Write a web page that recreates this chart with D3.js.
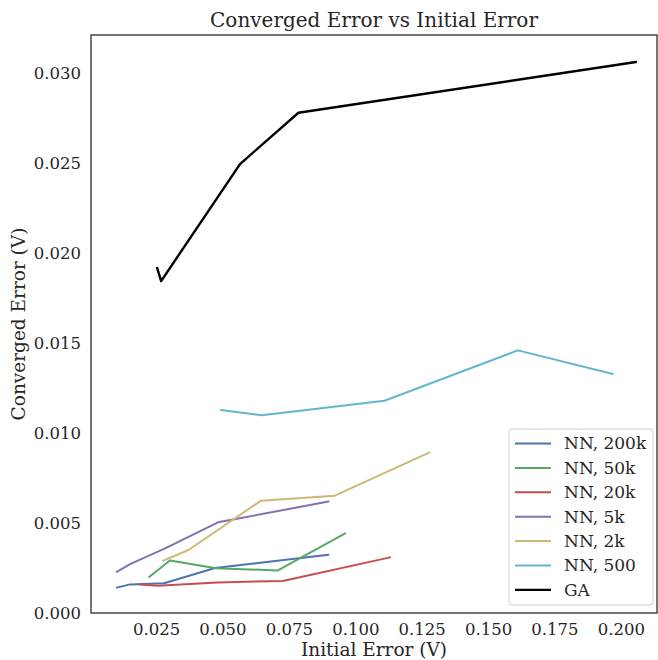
<!DOCTYPE html>
<html>
<head>
<meta charset="utf-8">
<script src="https://cdn.jsdelivr.net/npm/d3@7"></script>
<style>
  html, body { margin: 0; padding: 0; background: #fff; }
  svg { display: block; font-family: "DejaVu Serif", serif; }
</style>
</head>
<body>
<svg id="chart" width="658" height="660"></svg>
<script>
// Initial error (V) vs converged error (V) for each method
const nn200kX = [0.0102, 0.0152, 0.0280, 0.0472, 0.0899];
const nn200kY = [0.00141, 0.00159, 0.00165, 0.00250, 0.00324];

const nn50kX = [0.0224, 0.0302, 0.0476, 0.0707, 0.0962];
const nn50kY = [0.00200, 0.00292, 0.00249, 0.00236, 0.00443];

const nn20kX = [0.0187, 0.0258, 0.0480, 0.0727, 0.1131];
const nn20kY = [0.00159, 0.00152, 0.00170, 0.00178, 0.00309];

const nn5kX = [0.0102, 0.0152, 0.0284, 0.0483, 0.0899];
const nn5kY = [0.00229, 0.00272, 0.00359, 0.00504, 0.00619];

const nn2kX = [0.0277, 0.0372, 0.0645, 0.0921, 0.1278];
const nn2kY = [0.00291, 0.00350, 0.00624, 0.00651, 0.00891];

const nn500X = [0.0494, 0.0648, 0.1110, 0.1612, 0.1970];
const nn500Y = [0.01128, 0.01098, 0.01179, 0.01459, 0.01328];

const gaX = [0.0254, 0.0269, 0.0566, 0.0786, 0.2057];
const gaY = [0.01917, 0.01844, 0.02494, 0.02779, 0.03061];

const seriesNames = ["NN, 200k", "NN, 50k", "NN, 20k", "NN, 5k", "NN, 2k", "NN, 500", "GA"];
const seriesColors = ["#4C72B0", "#55A868", "#C44E52", "#8172B2", "#CCB974", "#64B5CD", "#000000"];

const xTicks = [0.025, 0.050, 0.075, 0.100, 0.125, 0.150, 0.175, 0.200];
const yTicks = [0.000, 0.005, 0.010, 0.015, 0.020, 0.025, 0.030];

const seriesX = [nn200kX, nn50kX, nn20kX, nn5kX, nn2kX, nn500X, gaX];
const seriesY = [nn200kY, nn50kY, nn20kY, nn5kY, nn2kY, nn500Y, gaY];
const series = seriesNames.map((name, i) => ({
  name, color: seriesColors[i],
  points: seriesX[i].map((x, j) => [x, seriesY[i][j]])
}));

const svg = d3.select("#chart");
const margin = { left: 91, right: 1, top: 35, bottom: 47 };
const W = 658, H = 660;
const plotW = W - margin.left - margin.right;
const plotH = H - margin.top - margin.bottom;

const x = d3.scaleLinear().domain([0.0005, 0.2136]).range([0, plotW]);
const y = d3.scaleLinear().domain([0, 0.03211]).range([plotH, 0]);

const g = svg.append("g").attr("transform", `translate(${margin.left},${margin.top})`);

// Axes (tick marks hidden, labels only)
const xAxis = g.append("g")
  .attr("transform", `translate(0,${plotH})`)
  .call(d3.axisBottom(x).tickValues(xTicks).tickFormat(d3.format(".3f")).tickSize(0).tickPadding(10));
const yAxis = g.append("g")
  .call(d3.axisLeft(y).tickValues(yTicks).tickFormat(d3.format(".3f")).tickSize(0).tickPadding(10));
[xAxis, yAxis].forEach(a => {
  a.select(".domain").remove();
  a.selectAll("text").attr("font-family", "DejaVu Serif, serif").attr("font-size", 16.5).attr("fill", "#262626");
});

// Series lines
const line = d3.line().x(d => x(d[0])).y(d => y(d[1]));
g.selectAll("path.series")
  .data(series)
  .join("path")
  .attr("class", "series")
  .attr("d", d => line(d.points))
  .attr("fill", "none")
  .attr("stroke", d => d.color)
  .attr("stroke-width", d => d.name === "GA" ? 2.4 : 2)
  .attr("stroke-linejoin", "round")
  .attr("stroke-linecap", "round");

// Frame
g.append("rect")
  .attr("width", plotW).attr("height", plotH)
  .attr("fill", "none").attr("stroke", "#262626").attr("stroke-width", 1.25);

// Title and axis labels
svg.append("text")
  .attr("x", margin.left + plotW / 2).attr("y", 27)
  .attr("text-anchor", "middle").attr("font-size", 20).attr("fill", "#262626")
  .text("Converged Error vs Initial Error");
svg.append("text")
  .attr("x", margin.left + plotW / 2).attr("y", 656)
  .attr("text-anchor", "middle").attr("font-size", 18.5).attr("fill", "#262626")
  .text("Initial Error (V)");
svg.append("text")
  .attr("transform", `translate(25,${margin.top + plotH / 2}) rotate(-90)`)
  .attr("text-anchor", "middle").attr("font-size", 18.5).attr("fill", "#262626")
  .text("Converged Error (V)");

// Legend
const legend = svg.append("g").attr("transform", "translate(509,429)");
legend.append("rect")
  .attr("width", 144).attr("height", 176).attr("rx", 3)
  .attr("fill", "#fff").attr("fill-opacity", 0.8)
  .attr("stroke", "#cccccc").attr("stroke-width", 1);
const rows = legend.selectAll("g.row").data(series).join("g")
  .attr("class", "row")
  .attr("transform", (d, i) => `translate(0,${14.5 + i * 24.4})`);
rows.append("line")
  .attr("x1", 6).attr("x2", 42)
  .attr("stroke", d => d.color).attr("stroke-width", d => d.name === "GA" ? 2.4 : 2);
rows.append("text")
  .attr("x", 55).attr("dy", "0.35em")
  .attr("font-size", 17).attr("fill", "#262626")
  .text(d => d.name);
</script>
</body>
</html>
